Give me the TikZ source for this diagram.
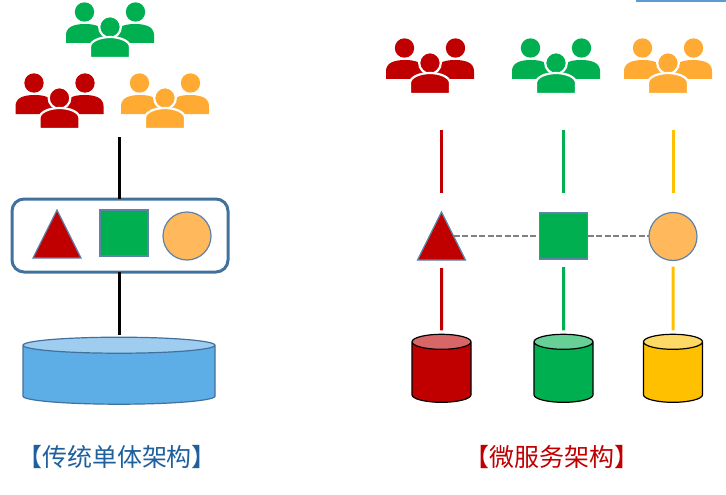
\documentclass[tikz,border=0pt]{standalone}
\usepackage{fontspec}
\newfontfamily\cjk{Noto Sans CJK SC}
\usetikzlibrary{shapes.geometric}
\definecolor{appred}{HTML}{C00000}
\definecolor{appgreen}{HTML}{00B050}
\definecolor{appyellow}{HTML}{FFC000}
\definecolor{apporange}{HTML}{FFB85C}
\definecolor{crowdorange}{HTML}{FFAB33}
\definecolor{edgeblue}{HTML}{5F82A8}
\definecolor{boxblue}{HTML}{41719C}
\definecolor{dbblue}{HTML}{5DADE6}
\definecolor{dbtop}{HTML}{9FCDF0}
\definecolor{titleblue}{HTML}{1F5F9E}
\definecolor{stripblue}{HTML}{5B9BD5}
\tikzset{
  tri/.style={isosceles triangle,isosceles triangle stretches,shape border rotate=90,
    minimum width=48pt,minimum height=48pt,inner sep=0pt,outer sep=0pt,anchor=apex,
    fill=appred,draw=edgeblue,line width=1.2pt},
  sq/.style={rectangle,minimum width=48pt,minimum height=46pt,inner sep=0pt,outer sep=0pt,
    fill=appgreen,draw=edgeblue,line width=1.2pt},
  orb/.style={circle,minimum size=48pt,inner sep=0pt,outer sep=0pt,
    fill=apporange,draw=edgeblue,line width=1.2pt},
  db/.style n args={3}{cylinder,shape border rotate=90,cylinder uses custom fill,
    cylinder body fill=#1,cylinder end fill=#2,inner sep=3pt,outer sep=0pt,draw=#3},
  wire/.style={line width=3pt},
  link/.style={color=gray,line width=1.8pt,dash pattern=on 6pt off 2.5pt},
  title/.style={font=\cjk\fontsize{25}{25}\selectfont,inner sep=0pt}
}
\newcommand{\crowd}[3]{%
  \begin{scope}[shift={(#1,#2)}]
    \foreach \sx in {-1,1} {
      \fill[#3] (25.5*\sx,-15) circle (9.7);
      \fill[#3] (44*\sx,16) -- (44*\sx,8) .. controls (44*\sx,0) and (36*\sx,-3) .. (25*\sx,-3)
        .. controls (14*\sx,-3) and (6*\sx,0) .. (6*\sx,8) -- (6*\sx,16) -- cycle;
    }
    \filldraw[#3,draw=white,line width=2.2pt] (0,0) circle (10.8);
    \filldraw[#3,draw=white,line width=2.2pt] (-20,31) -- (-20,20)
      .. controls (-20,14) and (-10,10) .. (0,10)
      .. controls (10,10) and (20,14) .. (20,20) -- (20,31) -- cycle;
  \end{scope}}
\begin{document}
\begin{tikzpicture}[x=1pt,y=-1pt]
  \useasboundingbox (0,0) rectangle (726,495);
  \draw[color=stripblue,line width=2pt] (636,1) -- (726,1);
  % users
  \crowd{110}{27}{appgreen}
  \crowd{59.5}{98}{appred}
  \crowd{165}{98}{crowdorange}
  \crowd{430}{63}{appred}
  \crowd{556}{63}{appgreen}
  \crowd{668}{63}{crowdorange}
  \coordinate (usersL) at (119,137);
  \coordinate (usersA) at (441.5,130);
  \coordinate (usersB) at (563.5,130);
  \coordinate (usersC) at (673,130);
  % monolith
  \node[draw=boxblue,line width=3pt,rounded corners=12pt,minimum width=216pt,minimum height=73pt,
    inner sep=0pt,outer sep=0pt] (mono) at (120,235.5) {};
  \node[tri] (triL) at (57,210) {};
  \node[sq] (sqL) at (124,233) {};
  \node[orb] (orbL) at (187,236) {};
  \node[db={dbblue}{dbtop}{boxblue},line width=1.2pt,minimum width=192pt,minimum height=67pt,
    shape aspect=2.67] (dbL) at (119,376) {};
  \coordinate (dbLtop) at (119,335);
  \draw[wire] (usersL) -- (usersL |- mono.north);
  \draw[wire] (dbLtop |- mono.south) -- (dbLtop);
  \node[title,text=titleblue] (titleL) at (117,457) {【传统单体架构】};
  % microservices
  \node[tri] (triA) at (441.5,212) {};
  \node[sq] (sqB) at (563.5,236) {};
  \node[orb] (orbC) at (673,236.5) {};
  \draw[link] (triA.right side) -- (sqB.west |- triA.right side);
  \draw[link] (sqB.east) -- (sqB.east -| orbC.west);
  \node[db={appred}{appred!60!white}{black},line width=1.2pt,minimum width=59pt,minimum height=68pt,
    shape aspect=2.5] (dbA) at (441.5,374) {};
  \node[db={appgreen}{appgreen!60!white}{black},line width=1.2pt,minimum width=59pt,minimum height=68pt,
    shape aspect=2.5] (dbB) at (563.5,374) {};
  \node[db={appyellow}{appyellow!60!white}{black},line width=1.2pt,minimum width=59pt,minimum height=68pt,
    shape aspect=2.5] (dbC) at (673,374) {};
  \draw[wire,color=appred,shorten >=19pt] (usersA) -- (triA.apex);
  \draw[wire,color=appred,shorten <=8pt,shorten >=4pt] (triA.lower side) -- (dbA.north);
  \draw[wire,color=appgreen,shorten >=20pt] (usersB) -- (sqB.north);
  \draw[wire,color=appgreen,shorten <=8pt,shorten >=4pt] (sqB.south) -- (dbB.north);
  \draw[wire,color=appyellow,shorten >=20pt] (usersC) -- (orbC.north);
  \draw[wire,color=appyellow,shorten <=6pt,shorten >=4pt] (orbC.south) -- (dbC.north);
  \node[title,text=appred] (titleR) at (552,457) {【微服务架构】};
\end{tikzpicture}
\end{document}
